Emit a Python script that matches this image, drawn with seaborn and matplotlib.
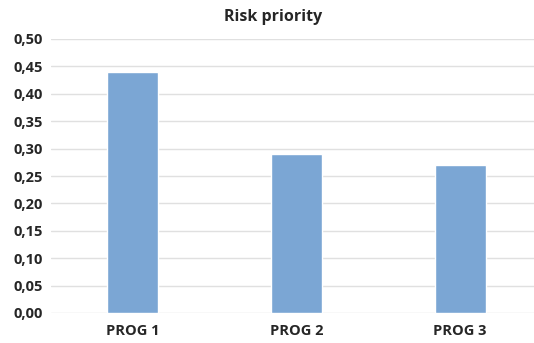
import matplotlib
matplotlib.use("Agg")
import matplotlib.pyplot as plt
import seaborn as sns
import pandas as pd

categories = ["PROG 1", "PROG 2", "PROG 3"]
values = [0.44, 0.29, 0.27]
yticks = [0.00, 0.05, 0.10, 0.15, 0.20, 0.25, 0.30, 0.35, 0.40, 0.45, 0.50]

sns.set_style("white")
plt.rcParams["font.family"] = ["Open Sans", "DejaVu Sans"]

df = pd.DataFrame({"program": categories, "priority": values})

fig = plt.figure(figsize=(5.34, 3.43), dpi=100)
ax = fig.add_axes([51 / 534, 30 / 343, 491 / 534, 274 / 343])

sns.barplot(data=df, x="program", y="priority", color="#7BA6D4",
            width=0.31, saturation=1, ax=ax, zorder=3)

ax.set_ylim(0, 0.5)
ax.set_yticks(yticks)
ax.set_yticklabels([f"{t:.2f}".replace(".", ",") for t in yticks],
                   fontsize=10.5, fontweight="bold", color="#262626")
ax.set_xticks(range(len(categories)))
ax.set_xticklabels(categories, fontsize=10.5, fontweight="bold", color="#262626")
ax.tick_params(axis="y", length=0, pad=6)
ax.tick_params(axis="x", length=0, pad=8)
ax.grid(axis="y", color="#E0E0E0", linewidth=1, zorder=0)
ax.set_axisbelow(True)
for s in ax.spines.values():
    s.set_visible(False)
ax.set_xlabel("")
ax.set_ylabel("")

fig.text(273 / 534, 1 - 17 / 343, "Risk priority", ha="center", va="center",
         fontsize=11.5, fontweight="bold", color="#262626")

fig.savefig("out.png", dpi=100)
